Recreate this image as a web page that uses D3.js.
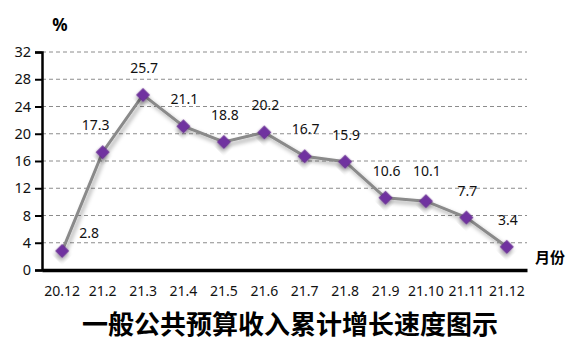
<!DOCTYPE html>
<html><head><meta charset="utf-8">
<script src="https://cdn.jsdelivr.net/npm/d3@7"></script>
<style>body{margin:0;background:#fff}svg{display:block}</style>
</head><body>
<svg id="c" width="587" height="351"></svg>
<script>
const categories = ["20.12","21.2","21.3","21.4","21.5","21.6","21.7","21.8","21.9","21.10","21.11","21.12"];
const values = [2.8,17.3,25.7,21.1,18.8,20.2,16.7,15.9,10.6,10.1,7.7,3.4];
const yTicks = [0,4,8,12,16,20,24,28,32];
const title = "一般公共预算收入累计增长速度图示";
const yUnit = "%";
const xUnit = "月份";

(function(){
const svg = d3.select("#c");
const mL = 42, mR = 527, mT = 52, mB = 270;
const x = d3.scaleBand().domain(categories).range([mL, mR]);
const y = d3.scaleLinear().domain([0, 32]).range([mB, mT]);
const numFont = "'Noto Sans', sans-serif";

const defs = svg.append("defs");
const f = defs.append("filter").attr("id","sh").attr("x","-50%").attr("y","-50%").attr("width","200%").attr("height","200%");
f.append("feDropShadow").attr("dx",2).attr("dy",3).attr("stdDeviation",2).attr("flood-color","#000").attr("flood-opacity",0.35);

svg.append("g").selectAll("line").data(yTicks.filter(d=>d>0)).join("line")
  .attr("x1", mL).attr("x2", mR).attr("y1", d=>y(d)).attr("y2", d=>y(d))
  .attr("stroke","#8c8c8c").attr("stroke-width",1).attr("stroke-dasharray","4,3");

const ya = svg.append("g").attr("transform",`translate(${mL},0)`)
  .call(d3.axisLeft(y).tickValues(yTicks).tickSize(7).tickPadding(4));
ya.select(".domain").attr("stroke","#000").attr("stroke-width",2.5);
ya.selectAll(".tick line").attr("stroke","#000").attr("stroke-width",2);
ya.selectAll(".tick text").attr("font-family",numFont).attr("font-size",14.5).attr("fill","#111");

const xa = svg.append("g").attr("transform",`translate(0,${mB})`)
  .call(d3.axisBottom(x).tickSize(0).tickPadding(16));
xa.select(".domain").attr("stroke","#000").attr("stroke-width",3.5);
xa.selectAll(".tick text").attr("font-family",numFont).attr("font-size",14).attr("fill","#111");

const cx = d => x(d) + x.bandwidth()/2;
const pts = categories.map((c,i)=>({c, v: values[i]}));

svg.append("path").datum(pts)
  .attr("d", d3.line().x(d=>cx(d.c)).y(d=>y(d.v)))
  .attr("fill","none").attr("stroke","#8a8a8a").attr("stroke-width",3).attr("filter","url(#sh)");

svg.append("g").selectAll("path").data(pts).join("path")
  .attr("d", d3.symbol(d3.symbolSquare, 88)())
  .attr("transform", d=>`translate(${cx(d.c)},${y(d.v)}) rotate(45)`)
  .attr("fill","#7030a0").attr("stroke","#5a2080").attr("stroke-width",0.5).attr("filter","url(#sh)");

svg.append("g").selectAll("text").data(pts).join("text")
  .attr("x", (d,i)=> cx(d.c) + (i===0 ? 27 : i===1 ? -7 : 1))
  .attr("y", (d,i)=> y(d.v) + (i===0 ? -18 : i===9 ? -30 : -27) + 5)
  .attr("text-anchor","middle").attr("font-family",numFont).attr("font-size",14).attr("fill","#111")
  .text(d=>d.v.toFixed(1));

svg.append("text").attr("x",60).attr("y",31).attr("text-anchor","middle")
  .attr("font-family","'Noto Sans', sans-serif").attr("font-weight","bold").attr("font-size",17).text(yUnit);
svg.append("text").attr("x",550).attr("y",263).attr("text-anchor","middle")
  .attr("font-family","'Noto Sans CJK SC', sans-serif").attr("font-weight","bold").attr("font-size",15).text(xUnit);
svg.append("text").attr("x",290).attr("y",334).attr("text-anchor","middle")
  .attr("font-family","'Noto Sans CJK SC', sans-serif").attr("font-weight","bold").attr("font-size",26).text(title);
})();
</script>
</body></html>
